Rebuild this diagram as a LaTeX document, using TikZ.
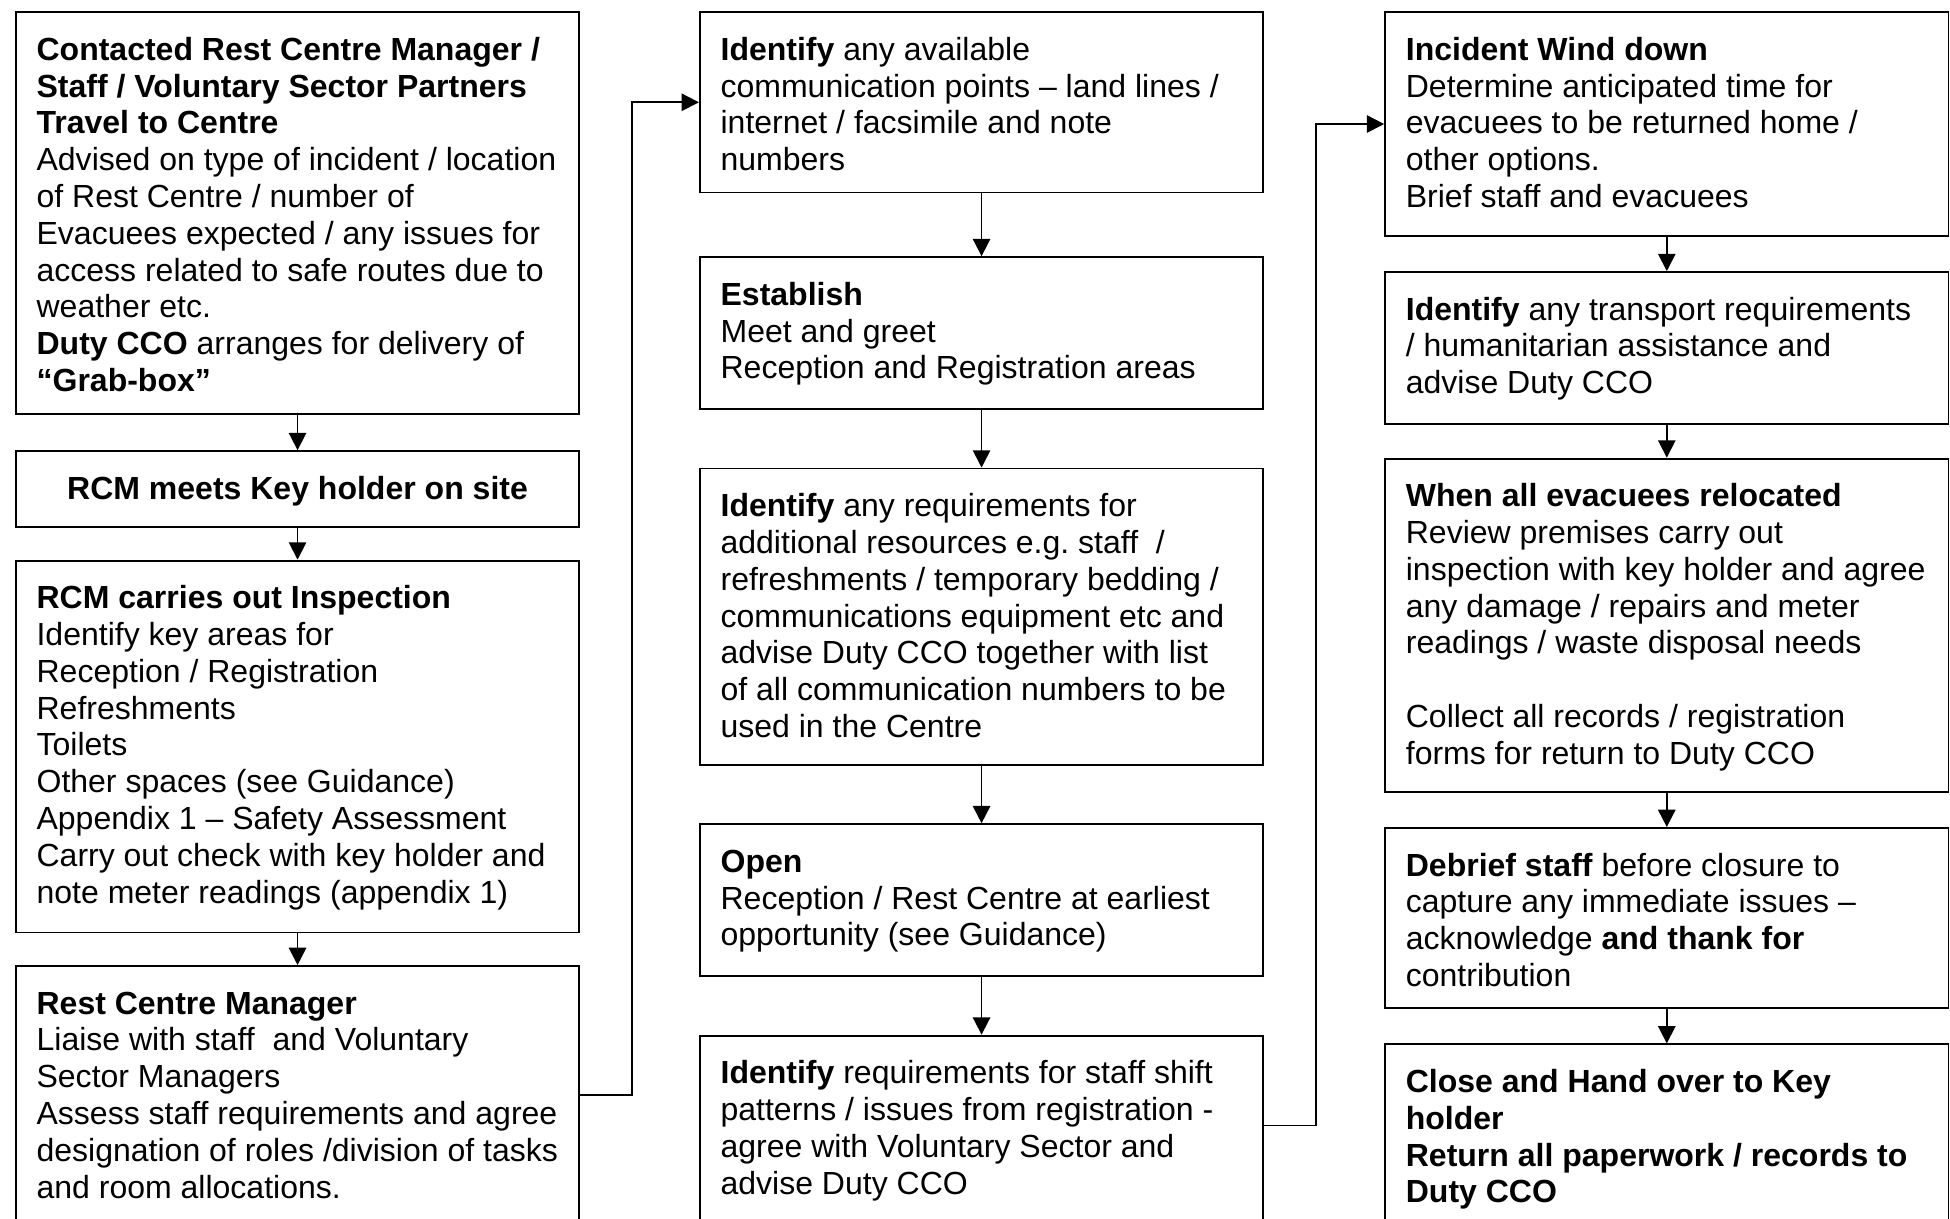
\documentclass[tikz,border=0pt]{standalone}
\usepackage{fontspec}
\setmainfont{Liberation Sans}
\frenchspacing
\usetikzlibrary{arrows.meta}
\tikzset{
  box/.style={draw, line width=0.7pt, anchor=north west, minimum width=211.2pt, inner sep=0pt},
  txt/.style={anchor=north west, inner sep=0pt, align=left, font=\fontsize{12}{13.8}\selectfont},
  ctxt/.style={anchor=north, inner sep=0pt, align=center, font=\fontsize{12}{13.8}\selectfont},
  arr/.style={line width=0.7pt, -{Triangle[length=6.5pt,width=6.5pt]}}
}
\begin{document}
\begin{tikzpicture}[x=0.4662pt, y=-0.4662pt]
\useasboundingbox (0,0) rectangle (1568,980);
\fill[white] (0,0) rectangle (1568,980);
% column 1
\node[box, minimum height=150.6pt] (c1b1) at (12,9) {};
\node[box, minimum height=28.4pt] (c1b2) at (12,362) {};
\node[box, minimum height=139.4pt] (c1b3) at (12,450) {};
\node[box, minimum height=97.0pt] (c1b4) at (12,776) {};
% column 2
\node[box, minimum height=67.6pt] (c2b1) at (562,9) {};
\node[box, minimum height=56.9pt] (c2b2) at (562,206) {};
\node[box, minimum height=111.0pt] (c2b3) at (562,376) {};
\node[box, minimum height=56.9pt] (c2b4) at (562,662) {};
\node[box, minimum height=75pt] (c2b5) at (562,832) {};
\coordinate (c2out) at ([shift={(0,73)}]c2b5.north east);
% column 3
\node[box, minimum height=83.9pt] (c3b1) at (1113,9) {};
\node[box, minimum height=56.9pt] (c3b2) at (1113,218) {};
\node[box, minimum height=124.9pt] (c3b3) at (1113,368) {};
\node[box, minimum height=67.6pt] (c3b4) at (1113,665) {};
\node[box, minimum height=69.9pt] (c3b5) at (1113,839) {};

% texts column 1
\node[txt] (c1t1) at ([shift={(17,18.3)}]c1b1.north west) {\strut\textbf{Contacted Rest Centre Manager /}\\
\textbf{Staff / Voluntary Sector Partners}\\
\textbf{Travel to Centre}\\
Advised on type of incident / location\\
of Rest Centre / number of\\
Evacuees expected / any issues for\\
access related to safe routes due to\\
weather etc.\\
\textbf{Duty CCO} arranges for delivery of\\
\textbf{“Grab-box”}};
\node[ctxt] (c1t2) at ([shift={(0,18.3)}]c1b2.north) {\strut\textbf{RCM meets Key holder on site}};
\node[txt] (c1t3) at ([shift={(17,18.3)}]c1b3.north west) {\strut\textbf{RCM carries out Inspection}\\
Identify key areas for\\
Reception / Registration\\
Refreshments\\
Toilets\\
Other spaces (see Guidance)\\
Appendix 1 – Safety Assessment\\
Carry out check with key holder and\\
note meter readings (appendix 1)};
\node[txt] (c1t4) at ([shift={(17,18.3)}]c1b4.north west) {\strut\textbf{Rest Centre Manager}\\
Liaise with staff\ \ and Voluntary\\
Sector Managers\\
Assess staff requirements and agree\\
designation of roles /division of tasks\\
and room allocations.};

% texts column 2
\node[txt] (c2t1) at ([shift={(17,18.3)}]c2b1.north west) {\strut\textbf{Identify} any available\\
communication points – land lines /\\
internet / facsimile and note\\
numbers};
\node[txt] (c2t2) at ([shift={(17,18.3)}]c2b2.north west) {\strut\textbf{Establish}\\
Meet and greet\\
Reception and Registration areas};
\node[txt] (c2t3) at ([shift={(17,18.3)}]c2b3.north west) {\strut\textbf{Identify} any requirements for\\
additional resources e.g.\ staff\ \ /\\
refreshments / temporary bedding /\\
communications equipment etc and\\
advise Duty CCO together with list\\
of all communication numbers to be\\
used in the Centre};
\node[txt] (c2t4) at ([shift={(17,18.3)}]c2b4.north west) {\strut\textbf{Open}\\
Reception / Rest Centre at earliest\\
opportunity (see Guidance)};
\node[txt] (c2t5) at ([shift={(17,18.3)}]c2b5.north west) {\strut\textbf{Identify} requirements for staff shift\\
patterns / issues from registration -\\
agree with Voluntary Sector and\\
advise Duty CCO};

% texts column 3
\node[txt] (c3t1) at ([shift={(17,18.3)}]c3b1.north west) {\strut\textbf{Incident Wind down}\\
Determine anticipated time for\\
evacuees to be returned home /\\
other options.\\
Brief staff and evacuees};
\node[txt] (c3t2) at ([shift={(17,18.3)}]c3b2.north west) {\strut\textbf{Identify} any transport requirements\\
/ humanitarian assistance and\\
advise Duty CCO};
\node[txt] (c3t3) at ([shift={(17,18.3)}]c3b3.north west) {\strut\textbf{When all evacuees relocated}\\
Review premises carry out\\
inspection with key holder and agree\\
any damage / repairs and meter\\
readings / waste disposal needs\\[13.8pt]
Collect all records / registration\\
forms for return to Duty CCO};
\node[txt] (c3t4) at ([shift={(17,18.3)}]c3b4.north west) {\strut\textbf{Debrief staff} before closure to\\
capture any immediate issues –\\
acknowledge \textbf{and thank for}\\
contribution};
\node[txt] (c3t5) at ([shift={(17,18.3)}]c3b5.north west) {\strut\textbf{Close and Hand over to Key}\\
\textbf{holder}\\
\textbf{Return all paperwork / records to}\\
\textbf{Duty CCO}};

% connectors
\draw[arr] (c1b1.south) -- (c1b2.north);
\draw[arr] (c1b2.south) -- (c1b3.north);
\draw[arr] (c1b3.south) -- (c1b4.north);
\draw[arr] (c1b4.east) -- ++(42,0) |- (c2b1.west);
\draw[arr] (c2b1.south) -- (c2b2.north);
\draw[arr] (c2b2.south) -- (c2b3.north);
\draw[arr] (c2b3.south) -- (c2b4.north);
\draw[arr] (c2b4.south) -- (c2b5.north);
\draw[arr] (c2out) -- ++(42,0) |- (c3b1.west);
\draw[arr] (c3b1.south) -- (c3b2.north);
\draw[arr] (c3b2.south) -- (c3b3.north);
\draw[arr] (c3b3.south) -- (c3b4.north);
\draw[arr] (c3b4.south) -- (c3b5.north);
\end{tikzpicture}
\end{document}
